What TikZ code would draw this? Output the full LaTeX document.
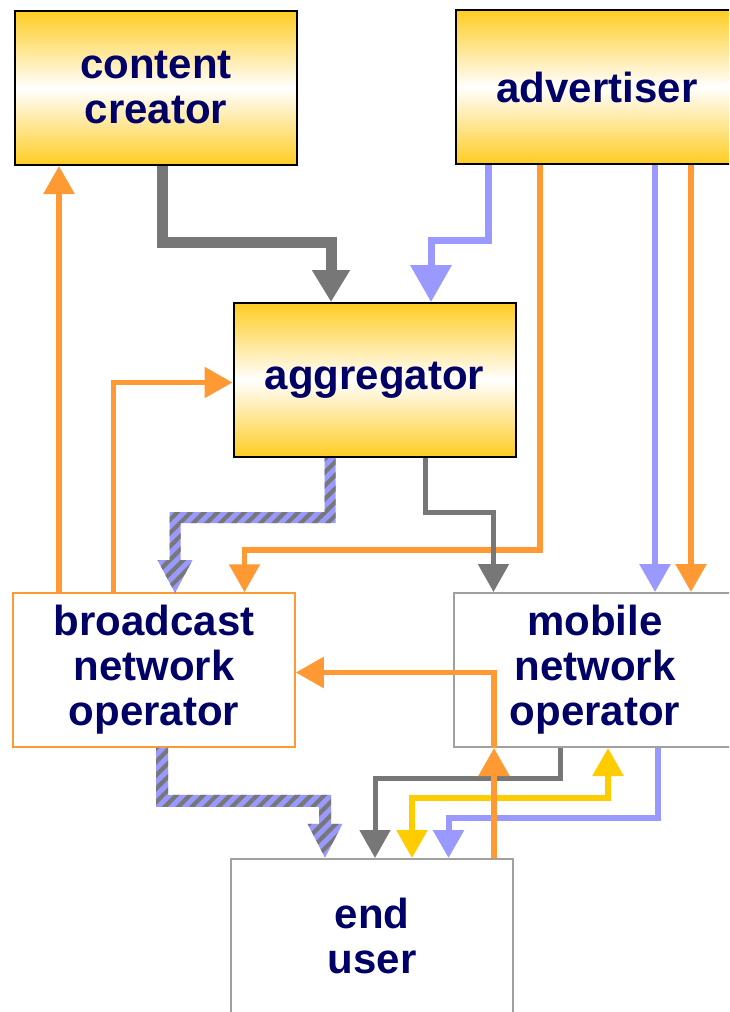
\documentclass[tikz,border=0pt]{standalone}
\usepackage{fontspec}
\setmainfont{Liberation Sans}
\usetikzlibrary{arrows.meta,calc,patterns.meta}
\definecolor{navy}{HTML}{000066}
\definecolor{orng}{HTML}{FF9933}
\definecolor{lav}{HTML}{9999FF}
\definecolor{gry}{HTML}{777777}
\definecolor{yel}{HTML}{FFCC00}
\definecolor{boxy}{HTML}{FFCC22}
\definecolor{bgray}{HTML}{A0A0A0}
\begin{document}
\begin{tikzpicture}[x=1pt,y=1pt,
  txt/.style={font=\fontsize{42}{45}\selectfont\bfseries, text=navy, align=center,
    minimum width=282pt, minimum height=154pt, inner sep=0pt},
  ybox/.style={txt, draw=black, line width=2pt, top color=boxy, bottom color=boxy, middle color=white},
  obox/.style={txt, draw=orng, line width=1.5pt, fill=white},
  gbox/.style={txt, draw=bgray, line width=2pt, fill=white},
  tipA/.style={-{Triangle[width=30pt,length=28pt]}},
  oline/.style={draw=orng, line width=5.5pt, tipA},
  gline/.style={draw=gry, line width=5pt, tipA},
  lline/.style={draw=lav, line width=6pt, tipA},
  yline/.style={draw=yel, line width=5.5pt, {Triangle[width=30pt,length=28pt]}-{Triangle[width=30pt,length=28pt]}},
  gthick/.style={draw=gry, line width=11pt, -{Triangle[width=36pt,length=32pt]}},
  lthick/.style={draw=lav, line width=7pt, -{Triangle[width=40pt,length=37pt]}},
  hatch/.style={fill=lav, postaction={pattern={Lines[angle=45,distance=9.5pt,line width=4.2pt]}, pattern color=gry}}
]
\useasboundingbox (0,0) rectangle (729,-1012);
\fill[white] (0,0) rectangle (729,-1012);
\clip (0,0) rectangle (729,-1012);

% boxes
\node[ybox] (cc)  at (156,-88)    {content\\creator};
\node[ybox] (adv) at (597,-87)    {advertiser};
\node[ybox] (agg) at (374.5,-380) {aggregator};
\node[obox] (bno) at (154,-670)   {broadcast\\network\\operator};
\node[gbox] (mno) at (595,-670)   {mobile\\network\\operator};
\node[gbox] (eu)  at (372,-936)   {end\\user};

% content creator -> aggregator
\draw[gthick] ([xshift=6pt]cc.south) -- ++(0,-76) -| ([xshift=-43.5pt]agg.north);
% advertiser -> aggregator
\draw[lthick] ([xshift=-109pt]adv.south) -- ++(0,-75) -| ([xshift=56.5pt]agg.north);
% advertiser -> broadcast
\draw[oline] ([xshift=-57pt]adv.south) -- ++(0,-385) -| ([xshift=90.5pt]bno.north);
% advertiser -> mobile
\draw[lline] ([xshift=58pt]adv.south) -- ([xshift=58pt]adv.south |- mno.north);
\draw[oline] ([xshift=94pt]adv.south) -- ([xshift=94pt]adv.south |- mno.north);
% broadcast -> content creator
\draw[oline] ([xshift=-95pt]bno.north) -- ([xshift=-95pt]bno.north |- cc.south);
% broadcast -> aggregator
\draw[oline] ([xshift=-40.5pt]bno.north) |- ([yshift=-2.5pt]agg.west);
% aggregator -> broadcast (hatched)
\path[hatch] ([xshift=-39pt]agg.south) -- ++(0,-65) -- ++(-155,0) -- ++(0,-37) -- ++(12,0)
  -- ++(-17.5,-33) -- ++(-17.5,33) -- ++(12,0) -- ++(0,48) -- ++(155,0) -- ++(0,54) -- cycle;
% aggregator -> mobile
\draw[gline] ([xshift=50.5pt]agg.south) -- ++(0,-54) -| ([xshift=-101.5pt]mno.north);
% broadcast -> end user (hatched)
\path[hatch] ([xshift=2pt]bno.south) -- ++(0,-59) -- ++(163,0) -- ++(0,-17) -- ++(-11.5,0)
  -- ++(17.5,-34) -- ++(17.5,34) -- ++(-11.5,0) -- ++(0,29) -- ++(-163,0) -- ++(0,47) -- cycle;
% mobile -> end user
\draw[gline] ([xshift=-35pt]mno.south) -- ++(0,-30) -| ([xshift=3pt]eu.north);
\draw[yline] ([xshift=40pt]eu.north) -- ++(0,60) -| ([xshift=13pt]mno.south);
\draw[lline] ([xshift=63pt]mno.south) -- ++(0,-70) -| ([xshift=76.5pt]eu.north);
% end user -> mobile -> broadcast
\draw[oline] ([xshift=122pt]eu.north) -- ([xshift=122pt]eu.north |- mno.south);
\draw[draw=orng, line width=5.5pt, -{Triangle[width=30pt,length=28pt]}]
  ([xshift=122pt]eu.north |- mno.south) |- ([yshift=-2.5pt]bno.east);
\end{tikzpicture}
\end{document}
